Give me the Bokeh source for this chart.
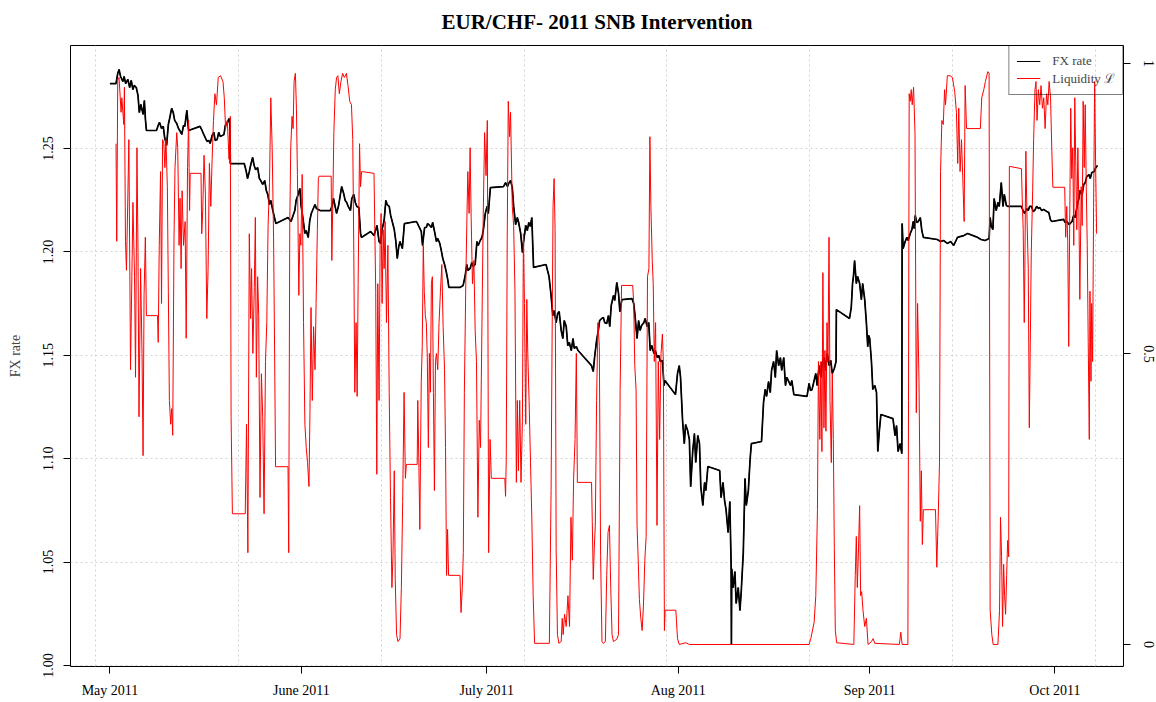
import pandas as pd
from bokeh.plotting import figure
from bokeh.models import (Range1d, LinearAxis, FixedTicker, PrintfTickFormatter,
                          Legend, LegendItem, Title)
from bokeh.embed import file_html
from bokeh.resources import INLINE

START = pd.Timestamp("2011-05-01")

# ---------------- data (days since 2011-05-01, values) ----------------
fx_days = [
    0.00, 0.98, 1.26, 1.47, 1.72, 2.08, 2.29, 2.54, 2.90, 3.19, 3.44, 3.72, 3.93, 4.26, 4.54, 4.75,
    5.00, 5.36, 5.57, 5.73, 5.90, 7.53, 7.86, 8.03, 8.35, 8.63, 8.85, 9.17, 9.45, 9.66, 9.99, 10.24,
    10.48, 10.81, 11.09, 11.30, 11.63, 11.91, 12.12, 12.45, 12.73, 14.58, 14.91, 15.18, 15.48, 15.72,
    16.00, 16.22, 16.54, 16.82, 17.03, 17.36, 17.61, 17.85, 18.18, 18.46, 18.67, 19.00, 19.28, 19.41,
    19.49, 21.74, 22.03, 22.28, 22.56, 22.77, 23.10, 23.34, 23.59, 23.91, 24.19, 24.41, 24.73, 25.06,
    25.31, 25.55, 25.83, 26.04, 26.37, 26.86, 28.83, 29.32, 29.65, 29.93, 30.14, 30.47, 30.75, 30.96,
    31.29, 31.56, 31.78, 32.10, 32.35, 32.60, 32.93, 33.20, 33.42, 34.02, 35.66, 35.95, 36.20, 36.45,
    36.69, 37.02, 37.51, 37.84, 38.08, 38.33, 38.57, 38.94, 39.15, 39.48, 39.72, 39.97, 40.30, 40.57,
    40.71, 42.21, 42.75, 43.24, 43.57, 43.82, 44.06, 44.39, 44.67, 44.88, 45.21, 45.45, 45.70, 46.03,
    46.27, 46.52, 46.76, 46.96, 47.34, 47.67, 49.58, 49.80, 50.40, 50.61, 50.94, 51.22, 51.43, 51.76,
    52.04, 52.25, 52.58, 52.86, 53.07, 53.40, 53.64, 53.89, 54.22, 54.50, 54.71, 54.87, 56.67, 57.17,
    57.49, 57.77, 57.98, 58.31, 58.59, 58.80, 59.13, 59.41, 59.62, 59.95, 60.23, 60.44, 60.77, 61.05,
    61.26, 61.59, 63.72, 64.05, 64.37, 64.54, 64.86, 65.14, 65.36, 65.68, 65.96, 66.17, 66.50, 66.78,
    66.99, 67.32, 67.57, 67.81, 68.06, 68.30, 68.58, 70.60, 71.09, 71.42, 71.70, 71.91, 72.24, 72.48,
    72.73, 73.06, 73.33, 73.55, 73.87, 74.12, 74.37, 74.69, 74.97, 75.18, 75.51, 75.79, 77.97, 78.25,
    78.46, 78.79, 79.07, 79.28, 79.61, 79.89, 80.10, 80.43, 80.70, 80.92, 81.16, 81.52, 81.73, 82.06,
    82.34, 82.56, 82.88, 84.52, 84.80, 85.01, 85.34, 85.59, 85.83, 86.08, 86.44, 86.65, 86.98, 87.23,
    87.47, 87.72, 88.08, 88.29, 88.62, 88.86, 89.11, 89.44, 89.71, 89.85, 91.56, 91.89, 92.17, 92.38,
    92.71, 92.99, 93.20, 93.53, 93.81, 94.02, 94.35, 94.63, 94.84, 95.17, 95.45, 95.66, 95.99, 96.27,
    96.48, 96.81, 98.72, 98.94, 99.26, 99.51, 99.75, 100.08, 100.36, 100.57, 100.62, 100.67, 100.90,
    101.18, 101.39, 101.72, 102.00, 102.21, 102.54, 102.82, 103.03, 103.36, 103.64, 103.85, 105.49,
    105.82, 106.09, 106.31, 106.63, 106.91, 107.12, 107.45, 107.73, 107.94, 108.27, 108.55, 108.76,
    109.09, 109.37, 109.58, 109.91, 110.19, 110.40, 110.73, 112.86, 113.19, 113.43, 113.68, 114.01,
    114.28, 114.50, 114.82, 115.10, 115.31, 115.64, 115.88, 116.13, 116.46, 116.70, 116.95, 117.28,
    117.56, 117.61, 119.74, 120.02, 120.23, 120.39, 120.56, 120.84, 121.05, 121.38, 121.66, 121.87,
    122.20, 122.47, 122.69, 122.85, 123.01, 123.29, 123.51, 123.83, 124.11, 124.32, 124.57, 124.82,
    126.78, 127.11, 127.35, 127.60, 127.93, 128.21, 128.26, 128.42, 128.75, 129.03, 129.24, 129.57,
    129.84, 130.06, 130.22, 130.38, 130.63, 130.88, 131.20, 131.45, 131.70, 133.94, 134.48, 134.97,
    135.58, 136.12, 136.61, 137.22, 137.76, 138.25, 138.85, 140.49, 141.03, 141.69, 142.34, 142.51,
    142.67, 142.95, 143.16, 143.49, 143.77, 143.98, 144.14, 144.31, 144.59, 144.80, 145.13, 145.41,
    147.58, 147.83, 148.08, 148.41, 148.68, 148.90, 149.22, 149.47, 149.71, 150.04, 150.32, 150.54,
    150.86, 151.19, 151.68, 152.01, 152.25, 152.50, 154.41, 154.62, 154.95, 155.28, 155.77, 156.02,
    156.27, 156.59, 156.87, 157.08, 157.41, 157.66, 157.90, 158.15, 158.51, 158.72, 158.97, 159.33,
    159.54, 159.87,
]
fx_rate = [
    1.2814, 1.2814, 1.2863, 1.2882, 1.2848, 1.2824, 1.2848, 1.2814, 1.2834, 1.2795, 1.2829, 1.2785, 1.2805, 1.2795, 1.2756, 1.2674,
    1.2713, 1.2665, 1.2732, 1.2645, 1.2587, 1.2587, 1.2616, 1.2626, 1.2597, 1.2607, 1.2553, 1.2515, 1.2616, 1.2645, 1.2694, 1.2674,
    1.2636, 1.2621, 1.2597, 1.2587, 1.2568, 1.2611, 1.2607, 1.2684, 1.2587, 1.2607, 1.2587, 1.2568, 1.2549, 1.2534,
    1.2539, 1.2524, 1.2563, 1.2578, 1.2539, 1.2544, 1.2578, 1.2558, 1.2563, 1.2568, 1.2611, 1.2626, 1.2645, 1.2611,
    1.2427, 1.2427, 1.2394, 1.2355, 1.2388, 1.2418, 1.2457, 1.2418, 1.2398, 1.2408, 1.2355, 1.2345, 1.2326, 1.2345,
    1.2297, 1.2278, 1.2229, 1.2249, 1.2200, 1.2137, 1.2166, 1.2147, 1.2176, 1.2200, 1.2249, 1.2278, 1.2306, 1.2220,
    1.2152, 1.2089, 1.2103, 1.2070, 1.2152, 1.2186, 1.2210, 1.2229, 1.2210, 1.2200, 1.2200, 1.2220, 1.2258, 1.2220,
    1.2186, 1.2224, 1.2316, 1.2282, 1.2249, 1.2239, 1.2220, 1.2200, 1.2258, 1.2278, 1.2239, 1.2220, 1.2215, 1.2089,
    1.2070, 1.2099, 1.2079, 1.2128, 1.2050, 1.2041, 1.2108, 1.2152, 1.2249, 1.2229, 1.2220, 1.2176, 1.2147, 1.2108,
    1.2055, 1.1968, 1.2026, 1.2050, 1.2016, 1.2137, 1.2147, 1.2137, 1.2099, 1.2031, 1.2118, 1.2118, 1.2137, 1.2128,
    1.2118, 1.2142, 1.2094, 1.2050, 1.2065, 1.2041, 1.2007, 1.1968, 1.1934, 1.1896, 1.1862, 1.1828, 1.1828, 1.1837,
    1.1881, 1.1939, 1.1910, 1.1920, 1.1949, 1.1929, 1.1939, 1.2050, 1.2031, 1.2055, 1.2070, 1.2103, 1.2186, 1.2220,
    1.2186, 1.2311, 1.2316, 1.2335, 1.2316, 1.2330, 1.2345, 1.2311, 1.2220, 1.2132, 1.2166, 1.2142, 1.2089, 1.1997,
    1.2055, 1.2128, 1.2103, 1.2142, 1.2123, 1.2166, 1.1925, 1.1939, 1.1881, 1.1789, 1.1692, 1.1716, 1.1658, 1.1702,
    1.1711, 1.1620, 1.1581, 1.1668, 1.1639, 1.1547, 1.1562, 1.1523, 1.1581, 1.1533, 1.1542, 1.1523, 1.1450, 1.1422,
    1.1489, 1.1572, 1.1620, 1.1668, 1.1678, 1.1683, 1.1658, 1.1654, 1.1692, 1.1639, 1.1741, 1.1789, 1.1765, 1.1852,
    1.1799, 1.1711, 1.1769, 1.1774, 1.1750, 1.1692, 1.1581, 1.1668, 1.1620, 1.1644, 1.1658, 1.1678, 1.1639, 1.1658,
    1.1523, 1.1547, 1.1508, 1.1523, 1.1489, 1.1499, 1.1470, 1.1475, 1.1354, 1.1378, 1.1310, 1.1412, 1.1450, 1.1393,
    1.1185, 1.1073, 1.1165, 1.1136, 1.1093, 1.0865, 1.1035, 1.1122, 1.0982, 1.1112, 1.1073, 1.0865, 1.0774, 1.0885,
    1.0846, 1.0962, 1.0943, 1.0812, 1.0885, 1.0798, 1.0754, 1.0643, 1.0793, 1.0488, 1.0102, 1.0468, 1.0377,
    1.0454, 1.0300, 1.0377, 1.0266, 1.0358, 1.0546, 1.0904, 1.0774, 1.0846, 1.0996, 1.1073, 1.1083,
    1.1272, 1.1335, 1.1301, 1.1373, 1.1320, 1.1427, 1.1470, 1.1393, 1.1523, 1.1450, 1.1489, 1.1427,
    1.1489, 1.1354, 1.1393, 1.1373, 1.1354, 1.1378, 1.1310, 1.1301, 1.1364, 1.1330, 1.1335, 1.1378,
    1.1412, 1.1354, 1.1450, 1.1393, 1.1465, 1.1489, 1.1427, 1.1508, 1.1450, 1.1475, 1.1412, 1.1436,
    1.1470, 1.1721, 1.1678, 1.1731, 1.1847, 1.1886, 1.1958, 1.1847, 1.1881, 1.1847, 1.1769, 1.1847,
    1.1769, 1.1658, 1.1542, 1.1596, 1.1581, 1.1470, 1.1335, 1.1354, 1.1320, 1.1035, 1.1136, 1.1214,
    1.1194, 1.1112, 1.1160, 1.1035, 1.1073, 1.1025, 1.2137, 1.2016, 1.2050, 1.2070, 1.2055, 1.2089,
    1.2108, 1.2147, 1.2113, 1.2176, 1.2142, 1.2147, 1.2166, 1.2103, 1.2070, 1.2060, 1.2050, 1.2055,
    1.2041, 1.2050, 1.2031, 1.2070, 1.2075, 1.2079, 1.2089, 1.2070, 1.2060, 1.2055, 1.2065, 1.2166,
    1.2128, 1.2108, 1.2258, 1.2200, 1.2239, 1.2220, 1.2273, 1.2335, 1.2220, 1.2278, 1.2224, 1.2220,
    1.2220, 1.2200, 1.2186, 1.2210, 1.2200, 1.2220, 1.2220, 1.2195, 1.2200, 1.2220, 1.2210, 1.2215,
    1.2200, 1.2205, 1.2195, 1.2190, 1.2157, 1.2147, 1.2157, 1.2142, 1.2147, 1.2132, 1.2147, 1.2176,
    1.2166, 1.2224, 1.2258, 1.2297, 1.2278, 1.2326, 1.2335, 1.2364, 1.2374, 1.2355, 1.2384, 1.2388,
    1.2403, 1.2418,
]

liq_days = [
    0.98, 1.10, 1.26, 1.47, 1.80, 1.92, 2.24, 2.34, 2.51, 2.67, 2.90, 3.06, 3.33, 3.44, 3.72, 3.98,
    4.14, 4.37, 4.54, 4.70, 4.96, 5.19, 5.36, 5.52, 5.73, 5.90, 7.70, 7.81, 7.98, 8.19, 8.35, 8.52,
    8.73, 8.89, 9.06, 9.29, 9.45, 9.62, 9.83, 9.99, 10.16, 10.37, 10.53, 10.81, 10.97, 11.19, 11.35,
    11.52, 11.68, 11.91, 12.17, 12.34, 12.56, 12.73, 12.89, 12.99, 14.74, 14.86, 15.02, 15.23, 15.45,
    15.68, 15.89, 16.10, 16.33, 16.54, 16.76, 16.99, 17.25, 17.53, 17.90, 18.30, 18.51, 18.72, 19.00,
    19.28, 19.49, 19.61, 19.82, 21.90, 22.11, 22.33, 22.56, 22.77, 22.93, 23.14, 23.37, 23.54, 23.70,
    23.91, 24.08, 24.29, 24.52, 24.73, 24.95, 25.18, 25.39, 25.60, 25.83, 26.04, 26.26, 26.49, 26.70,
    26.81, 28.83, 28.94, 29.11, 29.27, 29.48, 29.65, 29.81, 30.02, 30.19, 30.35, 30.58, 30.75, 30.91,
    31.12, 31.34, 31.56, 31.78, 31.99, 32.22, 32.38, 32.55, 32.76, 32.97, 33.20, 33.37, 33.58, 33.74,
    33.86, 35.82, 35.92, 36.09, 36.25, 36.48, 36.69, 36.90, 37.14, 37.40, 37.67, 37.95, 38.28, 38.54,
    38.82, 39.10, 39.31, 39.48, 39.64, 39.85, 40.02, 40.18, 40.41, 40.57, 40.74, 42.75, 42.92, 43.03,
    43.20, 43.36, 43.57, 43.74, 43.90, 44.06, 44.23, 44.39, 44.55, 44.77, 45.00, 45.21, 45.42, 45.65,
    45.82, 46.03, 46.19, 46.40, 46.63, 46.96, 47.18, 47.39, 47.62, 47.83, 47.99, 49.74, 49.84, 50.01,
    50.17, 50.40, 50.56, 50.73, 50.89, 51.06, 51.22, 51.38, 51.55, 51.71, 51.88, 52.04, 52.20, 52.37,
    52.53, 52.70, 52.86, 53.07, 53.28, 53.51, 53.73, 53.94, 54.17, 54.33, 54.50, 54.66, 54.82, 56.67,
    56.84, 57.05, 57.21, 57.38, 57.61, 57.77, 57.94, 58.15, 58.31, 58.48, 58.69, 58.92, 59.13, 59.34,
    59.57, 59.79, 60.00, 60.23, 60.44, 60.66, 60.89, 61.10, 61.31, 61.54, 61.75, 63.93, 64.05, 64.16,
    64.32, 64.49, 64.70, 64.86, 65.14, 65.36, 65.57, 65.80, 65.96, 66.13, 66.34, 66.55, 66.78, 66.94,
    67.11, 67.32, 67.49, 67.65, 67.86, 68.09, 68.30, 68.52, 68.75, 71.14, 71.42, 71.58, 71.74, 71.91,
    72.07, 72.24, 72.45, 72.68, 73.06, 73.22, 73.38, 73.60, 73.87, 74.15, 74.41, 74.64, 74.86, 75.07,
    75.30, 75.51, 75.68, 77.97, 78.09, 78.25, 78.41, 78.58, 78.79, 79.00, 79.23, 79.44, 79.66, 79.89,
    80.21, 80.43, 80.64, 80.87, 81.08, 81.29, 81.52, 82.06, 82.34, 82.60, 82.83, 84.64, 84.80, 84.97,
    85.18, 85.34, 85.51, 85.72, 85.95, 86.16, 86.37, 86.60, 86.81, 87.03, 87.26, 87.42, 87.58, 87.80,
    87.96, 88.13, 88.34, 88.57, 88.78, 89.00, 89.22, 89.44, 89.60, 89.77, 89.88, 91.62, 91.89, 92.17,
    93.25, 93.81, 113.19, 113.47, 114.01, 114.28, 114.55, 114.71, 114.94, 115.10, 115.27, 115.43,
    115.60, 115.76, 115.92, 116.09, 116.25, 116.42, 116.58, 116.79, 116.95, 117.12, 117.28, 117.44,
    117.66, 120.44, 120.67, 120.84, 121.00, 121.16, 121.38, 121.54, 121.71, 121.92, 122.20, 122.47,
    122.74, 123.29, 123.56, 123.83, 127.81, 128.04, 128.26, 129.19, 129.29, 129.40, 129.57, 129.73,
    129.89, 130.11, 130.34, 130.55, 130.76, 130.99, 131.20, 131.37, 131.53, 131.70, 133.66, 133.87,
    134.10, 134.31, 134.48, 134.69, 134.92, 135.13, 135.29, 135.58, 136.00, 136.40, 136.77, 137.05,
    137.26, 137.43, 137.64, 137.87, 138.08, 138.30, 138.46, 138.69, 140.92, 141.15, 141.48, 141.74,
    142.13, 142.34, 142.51, 142.78, 143.00, 143.77, 144.03, 144.19, 144.36, 144.52, 144.69, 144.85,
    145.01, 145.18, 145.34, 145.51, 145.62, 147.58, 147.70, 147.86, 148.03, 148.13, 148.29, 148.46,
    148.68, 148.85, 149.01, 149.17, 149.39, 149.55, 149.77, 149.93, 150.10, 150.32, 150.54, 150.75,
    150.98, 151.19, 151.41, 151.64, 151.85, 152.06, 152.29, 152.50, 152.66, 154.58, 154.74, 154.91,
    155.07, 155.23, 155.40, 155.56, 155.72, 155.89, 156.05, 156.21, 156.38, 156.54, 156.71, 156.87,
    157.03, 157.25, 157.41, 157.57, 157.74, 157.90, 158.07, 158.23, 158.39, 158.56, 158.67, 158.84,
    158.94, 159.10, 159.26, 159.43, 159.59, 159.75,
]
liquidity = [
    0.862, 0.694, 0.972, 0.976, 0.916, 0.941, 0.895, 0.959, 0.694, 0.644, 0.775, 0.869, 0.473, 0.554, 0.761, 0.633,
    0.460, 0.855, 0.675, 0.392, 0.647, 0.501, 0.325, 0.601, 0.701, 0.566, 0.566, 0.520, 0.687, 0.814, 0.587, 0.869,
    0.862, 0.821, 0.869, 0.788, 0.608, 0.420, 0.379, 0.406, 0.360, 0.701, 0.821, 0.881, 0.855, 0.687, 0.768,
    0.647, 0.781, 0.687, 0.728, 0.527, 0.821, 0.902, 0.747, 0.811, 0.811, 0.707, 0.747, 0.842, 0.775,
    0.561, 0.647, 0.828, 0.754, 0.835, 0.902, 0.948, 0.929, 0.976, 0.979, 0.969, 0.941, 0.888, 0.902,
    0.835, 0.909, 0.392, 0.225, 0.225, 0.379, 0.158, 0.707, 0.561, 0.647, 0.501, 0.614, 0.735, 0.460,
    0.633, 0.566, 0.253, 0.466, 0.392, 0.225, 0.487, 0.554, 0.721, 0.795, 0.941, 0.855, 0.701, 0.453,
    0.306, 0.306, 0.158, 0.721, 0.855, 0.909, 0.888, 0.969, 0.983, 0.923, 0.809, 0.601, 0.707, 0.687,
    0.809, 0.554, 0.379, 0.339, 0.313, 0.272, 0.399, 0.580, 0.420, 0.547, 0.473, 0.587, 0.714, 0.802,
    0.806, 0.806, 0.661, 0.768, 0.881, 0.955, 0.976, 0.979, 0.948, 0.969, 0.983, 0.976, 0.983, 0.962,
    0.935, 0.929, 0.869, 0.675, 0.434, 0.554, 0.427, 0.621, 0.862, 0.788, 0.814, 0.811, 0.687, 0.608,
    0.293, 0.621, 0.420, 0.687, 0.742, 0.587, 0.714, 0.647, 0.728, 0.554, 0.687, 0.434, 0.253, 0.098,
    0.151, 0.299, 0.112, 0.017, 0.005, 0.010, 0.098, 0.246, 0.434, 0.286, 0.310, 0.310, 0.420, 0.313,
    0.198, 0.453, 0.513, 0.687, 0.608, 0.566, 0.554, 0.494, 0.339, 0.501, 0.434, 0.621, 0.633, 0.434,
    0.265, 0.487, 0.501, 0.473, 0.554, 0.608, 0.654, 0.547, 0.473, 0.339, 0.119, 0.198, 0.119, 0.119,
    0.055, 0.098, 0.158, 0.434, 0.621, 0.721, 0.814, 0.742, 0.855, 0.735, 0.621, 0.661, 0.540, 0.487,
    0.219, 0.386, 0.339, 0.554, 0.742, 0.881, 0.807, 0.902, 0.158, 0.353, 0.286, 0.286, 0.255, 0.318,
    0.701, 0.935, 0.874, 0.916, 0.754, 0.721, 0.608, 0.279, 0.420, 0.299, 0.420, 0.279, 0.386, 0.707,
    0.587, 0.379, 0.594, 0.501, 0.420, 0.313, 0.219, 0.084, 0.002, 0.002, 0.265, 0.520, 0.754, 0.802,
    0.714, 0.165, 0.017, 0.002, 0.005, 0.045, 0.017, 0.052, 0.031, 0.084, 0.031, 0.219, 0.145, 0.286,
    0.353, 0.501, 0.279, 0.279, 0.212, 0.112, 0.165, 0.205, 0.420, 0.554, 0.513, 0.151, 0.005, 0.002,
    0.005, 0.119, 0.193, 0.205, 0.098, 0.017, 0.005, 0.009, 0.017, 0.439, 0.618, 0.618, 0.587, 0.480,
    0.439, 0.205, 0.151, 0.077, 0.045, 0.024, 0.065, 0.145, 0.186, 0.633, 0.647, 0.874, 0.754, 0.661,
    0.621, 0.487, 0.554, 0.205, 0.487, 0.353, 0.501, 0.534, 0.487, 0.024, 0.059, 0.059, 0.010, 0.000,
    0.003, 0.000, 0.000, 0.010, 0.038, 0.084, 0.232, 0.487, 0.353, 0.487, 0.332, 0.640,
    0.373, 0.506, 0.367, 0.554, 0.487, 0.701, 0.420, 0.313, 0.466, 0.353, 0.165, 0.024,
    0.003, 0.000, 0.119, 0.186, 0.098, 0.151, 0.239, 0.084, 0.091, 0.059, 0.031, 0.045,
    0.000, 0.005, 0.010, 0.002, 0.000, 0.021, 0.000, 0.000, 0.420, 0.948, 0.935, 0.955,
    0.929, 0.959, 0.881, 0.399, 0.587, 0.453, 0.212, 0.299, 0.172, 0.232, 0.232, 0.133,
    0.219, 0.313, 0.814, 0.902, 0.895, 0.955, 0.929, 0.979, 0.979, 0.976, 0.952, 0.916,
    0.828, 0.923, 0.814, 0.869, 0.802, 0.728, 0.962, 0.888, 0.888, 0.941, 0.955, 0.969,
    0.986, 0.983, 0.059, 0.017, 0.000, 0.000, 0.059, 0.219, 0.151, 0.031, 0.138, 0.084,
    0.052, 0.119, 0.179, 0.151, 0.823, 0.819, 0.768, 0.714, 0.554, 0.647, 0.849, 0.742,
    0.647, 0.373, 0.520, 0.675, 0.781, 0.869, 0.955, 0.969, 0.902, 0.955, 0.929, 0.962,
    0.923, 0.941, 0.888, 0.948, 0.929, 0.969, 0.941, 0.849, 0.787, 0.787, 0.701, 0.754,
    0.694, 0.513, 0.742, 0.923, 0.802, 0.855, 0.687, 0.941, 0.821, 0.714, 0.855, 0.754,
    0.594, 0.788, 0.721, 0.935, 0.821, 0.929, 0.788, 0.687, 0.520, 0.353, 0.608, 0.453,
    0.587, 0.487, 0.754, 0.969, 0.821, 0.707,
]

month_dates = ["2011-05-01", "2011-06-01", "2011-07-01", "2011-08-01", "2011-09-01", "2011-10-01"]
month_labels = ["May 2011", "June 2011", "July 2011", "Aug 2011", "Sep 2011", "Oct 2011"]
fx_ticks = [1.00, 1.05, 1.10, 1.15, 1.20, 1.25]
liq_ticks = [0, 0.5, 1]
liq_labels = ["0", "0.5", "1"]
TITLE = "EUR/CHF- 2011 SNB Intervention"

# ---------------- build ----------------
def ms(ts):
    return int(pd.Timestamp(ts).value // 10**6)

fx_time = START + pd.to_timedelta(fx_days, unit="D")
liq_time = START + pd.to_timedelta(liq_days, unit="D")

FONT = "Liberation Serif"
X0, X1 = ms(START - pd.Timedelta(days=6.39)), ms(START + pd.Timedelta(days=164.1))
Y0, Y1 = 0.99952, 1.2998

p = figure(width=1156, height=702, x_axis_type="datetime",
           x_range=Range1d(X0, X1), y_range=Range1d(Y0, Y1),
           output_backend="svg", toolbar_location=None,
           min_border_left=70, min_border_right=33, min_border_top=45, min_border_bottom=36)
p.background_fill_color = "white"
p.border_fill_color = "white"
p.outline_line_color = "black"
p.outline_line_width = 1

p.extra_y_ranges = {"liq": Range1d(-0.0379, 1.031)}

# grid: vertical lines every 2e6 seconds (R's pretty() on POSIX seconds)
grid_ms = [int((1.304e9 + k * 2e6) * 1000) for k in range(8)]
p.xgrid.ticker = FixedTicker(ticks=grid_ms)
for g in (p.xgrid, p.ygrid):
    g.grid_line_color = "#d3d3d3"
    g.grid_line_dash = "2 3"
    g.grid_line_width = 1

# axes
xax = p.xaxis[0]
xax.ticker = FixedTicker(ticks=[ms(d) for d in month_dates])
xax.major_label_overrides = {ms(d): lab for d, lab in zip(month_dates, month_labels)}

yax = p.yaxis[0]
yax.ticker = FixedTicker(ticks=fx_ticks)
yax.formatter = PrintfTickFormatter(format="%.2f")
yax.axis_label = "FX rate"
yax.major_label_orientation = "vertical"

rax = LinearAxis(y_range_name="liq", ticker=FixedTicker(ticks=liq_ticks),
                 major_label_overrides=dict(zip(liq_ticks, liq_labels)))
rax.major_label_orientation = "vertical"
p.add_layout(rax, "right")

for ax in (xax, yax, rax):
    ax.axis_line_color = None
    ax.major_tick_line_color = "black"
    ax.major_tick_out = 7
    ax.major_tick_in = 0
    ax.minor_tick_line_color = None
    ax.major_label_text_font = FONT
    ax.major_label_text_font_size = "14px"
    ax.major_label_text_color = "black"
xax.major_label_standoff = 9
yax.major_label_standoff = 10
rax.major_label_standoff = 13
yax.axis_label_text_font = FONT
yax.axis_label_text_font_size = "14px"
yax.axis_label_text_font_style = "normal"
yax.axis_label_standoff = 18

# lines (a thin copy of the FX series underneath serves as the legend key)
k_fx = p.line(fx_time, fx_rate, line_color="black", line_width=1)
r_fx = p.line(fx_time, fx_rate, line_color="black", line_width=1.7)
r_liq = p.line(liq_time, liquidity, line_color="red", line_width=1, y_range_name="liq")

legend = Legend(items=[LegendItem(label="FX rate", renderers=[k_fx]),
                       LegendItem(label="Liquidity \u2112", renderers=[r_liq])],
                location="top_right", margin=0, padding=7, spacing=0,
                glyph_width=24, glyph_height=16, label_height=16, label_standoff=12,
                border_line_color="black", border_line_width=1,
                background_fill_alpha=0,
                label_text_font=FONT, label_text_font_size="13px")
p.add_layout(legend)

# title in its own panel, text pinned to the top of that panel
p.title.text = ""
p.title.text_font_size = "1px"
p.title.standoff = 0
p.add_layout(Title(text=TITLE, align="center", vertical_align="top", text_font=FONT,
                   text_font_size="21px", text_font_style="bold", text_color="black",
                   standoff=19), "above")

open("out.html", "w").write(file_html(p, INLINE))
